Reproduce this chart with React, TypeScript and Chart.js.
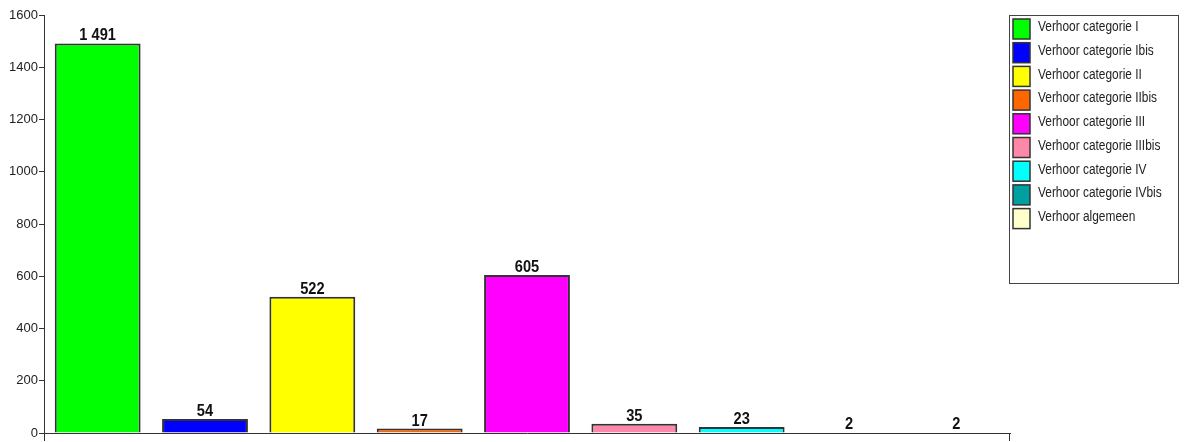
import React, { useEffect, useRef } from "react";
import { Chart, registerables } from "chart.js";

Chart.register(...registerables);

const categories = [
  "Verhoor categorie I",
  "Verhoor categorie Ibis",
  "Verhoor categorie II",
  "Verhoor categorie IIbis",
  "Verhoor categorie III",
  "Verhoor categorie IIIbis",
  "Verhoor categorie IV",
  "Verhoor categorie IVbis",
  "Verhoor algemeen",
];
const values = [1491, 54, 522, 17, 605, 35, 23, 2, 2];
const colors = [
  "#00ff00",
  "#0000ff",
  "#ffff00",
  "#ff6600",
  "#ff00ff",
  "#ff88aa",
  "#00ffff",
  "#00a0a0",
  "#ffffcc",
];
const yTicks = [0, 200, 400, 600, 800, 1000, 1200, 1400, 1600];

const FONT = "'Liberation Sans', Arial, sans-serif";

function fmt(v: number): string {
  return String(v).replace(/\B(?=(\d{3})+(?!\d))/g, " ");
}

function condensedText(ctx: any, text: string, x: number, y: number, sx: number) {
  ctx.save();
  ctx.translate(x, y);
  ctx.scale(sx, 1);
  ctx.fillText(text, 0, 0);
  ctx.restore();
}

const valueLabels = {
  id: "valueLabels",
  afterDatasetsDraw(chart: any) {
    const ctx = chart.ctx;
    const meta = chart.getDatasetMeta(0);
    ctx.save();
    ctx.font = `bold 17px ${FONT}`;
    ctx.fillStyle = "#111";
    ctx.textAlign = "center";
    ctx.textBaseline = "alphabetic";
    meta.data.forEach((bar: any, i: number) => {
      condensedText(ctx, fmt(values[i]), bar.x, bar.y - 3, 0.86);
    });
    ctx.restore();
  },
};

const axisEnds = {
  id: "axisEnds",
  afterDraw(chart: any) {
    const ctx = chart.ctx;
    const a = chart.chartArea;
    ctx.save();
    ctx.strokeStyle = "#333";
    ctx.lineWidth = 1;
    ctx.beginPath();
    ctx.moveTo(a.left + 0.5, a.bottom);
    ctx.lineTo(a.left + 0.5, a.bottom + 8);
    ctx.moveTo(a.right - 0.5, a.bottom);
    ctx.lineTo(a.right - 0.5, a.bottom + 8);
    ctx.stroke();
    ctx.restore();
  },
};

const boxLegend = {
  id: "boxLegend",
  afterDraw(chart: any) {
    const ctx = chart.ctx;
    const x0 = 1009;
    const y0 = 15;
    const w = 169;
    const h = 268;
    ctx.save();
    ctx.fillStyle = "#fff";
    ctx.fillRect(x0, y0, w, h);
    ctx.strokeStyle = "#444";
    ctx.lineWidth = 1;
    ctx.strokeRect(x0 + 0.5, y0 + 0.5, w, h);
    ctx.font = `14px ${FONT}`;
    ctx.textBaseline = "middle";
    ctx.textAlign = "left";
    const labels = chart.data.labels as string[];
    const bg = chart.data.datasets[0].backgroundColor as string[];
    labels.forEach((lab, i) => {
      const ry = 19 + i * 23.7;
      ctx.fillStyle = bg[i];
      ctx.fillRect(1013, ry, 17, 20);
      ctx.strokeStyle = "#333";
      ctx.lineWidth = 1.5;
      ctx.strokeRect(1013, ry, 17, 20);
      ctx.fillStyle = "#222";
      condensedText(ctx, lab, 1038, ry + 8.5, 0.85);
    });
    ctx.restore();
  },
};

export default function App() {
  const ref = useRef<HTMLCanvasElement | null>(null);
  useEffect(() => {
    if (!ref.current) return;
    const chart = new Chart(ref.current, {
      type: "bar",
      data: {
        labels: categories,
        datasets: [
          {
            data: values,
            backgroundColor: colors,
            borderColor: "#333",
            borderWidth: 2,
            barPercentage: 0.8,
            categoryPercentage: 1,
          },
        ],
      },
      options: {
        responsive: false,
        animation: false,
        layout: { padding: { top: 15, right: 174, left: 0, bottom: 0 } },
        plugins: {
          legend: { display: false },
          tooltip: { enabled: false },
        },
        scales: {
          x: {
            ticks: { display: false },
            grid: { display: false },
            border: { display: true, color: "#333", width: 1 },
            afterFit(scale: any) {
              scale.height = 9;
            },
          },
          y: {
            min: 0,
            max: 1600,
            afterBuildTicks(scale: any) {
              scale.ticks = yTicks.map((v) => ({ value: v }));
            },
            ticks: {
              color: "#222",
              font: { family: FONT, size: 13 },
              padding: 1,
              callback: (v: any) => String(v),
            },
            grid: {
              drawOnChartArea: false,
              drawTicks: true,
              tickLength: 5,
              color: "#333",
            },
            border: { display: true, color: "#333", width: 1 },
            afterFit(scale: any) {
              scale.width = 44;
            },
          },
        },
      },
      plugins: [valueLabels, axisEnds, boxLegend],
    });
    return () => chart.destroy();
  }, []);
  return (
    <div style={{ position: "absolute", left: 0, top: 0, width: 1184, height: 442, background: "#fff" }}>
      <canvas ref={ref} width={1184} height={442} style={{ width: 1184, height: 442 }} />
    </div>
  );
}
